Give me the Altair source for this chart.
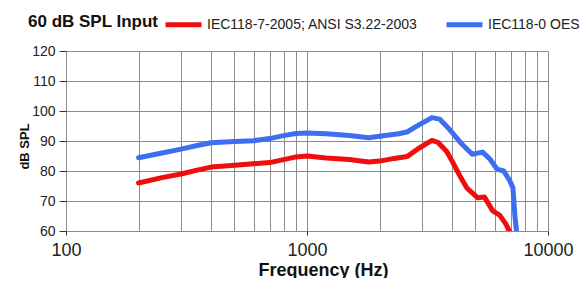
import altair as alt
import pandas as pd

# Red series: IEC118-7-2005; ANSI S3.22-2003
red_freq = [200, 250, 300, 350, 400, 500, 600, 700, 800, 900, 1000, 1200, 1500, 1800, 2000,
            2300, 2600, 2900, 3300, 3500, 3800, 4000, 4300, 4600, 5100, 5450, 5900, 6300, 6700, 7000]
red_db = [76.0, 77.8, 79.0, 80.3, 81.3, 81.9, 82.4, 82.8, 83.8, 84.7, 85.0, 84.3, 83.8, 83.0, 83.3,
          84.2, 84.8, 87.5, 90.2, 89.5, 86.5, 83.3, 78.5, 74.4, 71.1, 71.3, 66.7, 65.3, 62.2, 59.0]

# Blue series: IEC118-0 OES
blue_freq = [200, 250, 300, 350, 400, 500, 600, 700, 800, 900, 1000, 1200, 1500, 1800, 2000,
             2400, 2600, 2950, 3300, 3550, 3900, 4400, 4850, 5350, 5750, 6150, 6550, 6950, 7150, 7300, 7450]
blue_db = [84.4, 86.0, 87.3, 88.5, 89.4, 89.8, 90.1, 90.8, 91.8, 92.5, 92.7, 92.4, 91.8, 91.1, 91.6,
           92.4, 93.0, 95.6, 97.8, 97.3, 93.9, 88.9, 85.6, 86.3, 83.9, 80.6, 80.0, 76.7, 74.4, 64.4, 58.0]

series_names = ["IEC118-7-2005; ANSI S3.22-2003", "IEC118-0 OES"]
series_colors = ["#f00d0d", "#3b6ef0"]

x_grid_values = [100, 200, 300, 400, 500, 600, 700, 800, 900,
                 1000, 2000, 3000, 4000, 5000, 6000, 7000, 8000, 9000, 10000]
y_values = [60, 70, 80, 90, 100, 110, 120]

rows = []
for f, v in zip(red_freq, red_db):
    rows.append({"freq": f, "db": v, "series": series_names[0]})
for f, v in zip(blue_freq, blue_db):
    rows.append({"freq": f, "db": v, "series": series_names[1]})
df = pd.DataFrame(rows)

decade = "datum.value == 100 || datum.value == 1000 || datum.value == 10000"

chart = alt.Chart(df).mark_line(strokeWidth=5, clip=True, strokeCap="round", strokeJoin="round").encode(
    x=alt.X("freq:Q",
            scale=alt.Scale(type="log", domain=[100, 10000], nice=False),
            axis=alt.Axis(values=x_grid_values, format="d",
                          labelExpr=f"({decade}) ? datum.label : ''",
                          labelOverlap=False, labelFlush=False,
                          labelFontSize=18, labelColor="#222222", labelPadding=6,
                          tickSize=4,
                          tickColor={"condition": {"test": decade, "value": "#333333"}, "value": "transparent"},
                          domain=False,
                          title="Frequency (Hz)", titleFontSize=18, titleFontWeight="bold",
                          titleColor="#111111", titleX=257, titleY=44, titleBaseline="alphabetic",
                          gridColor="#8c8c8c", gridWidth=1)),
    y=alt.Y("db:Q",
            scale=alt.Scale(domain=[60, 120], nice=False),
            axis=alt.Axis(values=y_values, labelFontSize=14, labelColor="#222222",
                          labelPadding=4, tickSize=7, tickColor="#333333", domain=False,
                          title="dB SPL", titleFontSize=13, titleFontWeight="bold",
                          titleColor="#111111", titleX=-38, titleY=95, titleBaseline="alphabetic",
                          gridColor="#8c8c8c", gridWidth=1)),
    color=alt.Color("series:N",
                    scale=alt.Scale(domain=series_names, range=series_colors),
                    legend=alt.Legend(orient="none", direction="horizontal",
                                      legendX=-38, legendY=-47, padding=0,
                                      title="60 dB SPL Input", titleOrient="left",
                                      titleAnchor="start", titleBaseline="line-top",
                                      titleLineHeight=36,
                                      titleFontSize=17, titleFontWeight="bold", titleColor="#111111",
                                      titlePadding=4, titleLimit=0, labelLimit=0,
                                      symbolType="stroke", symbolSize=1296, symbolStrokeWidth=5,
                                      labelFontSize=14, labelColor="#222222", labelOffset=3,
                                      columnPadding=18)),
).properties(
    width=482, height=180,
    autosize=alt.AutoSizeParams(type="none"),
    padding={"left": 58, "top": 43, "right": 32, "bottom": 47},
).configure_view(
    stroke="#111111", strokeWidth=2
).configure(font="Liberation Sans")

chart.save("out.html", embed_options={"renderer": "svg", "actions": False})
